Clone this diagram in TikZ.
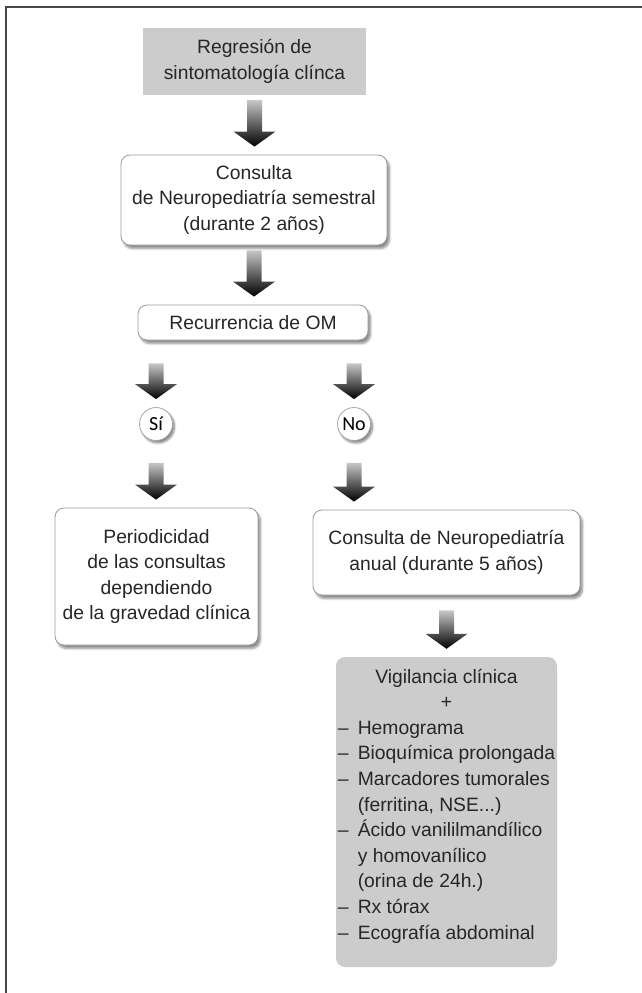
\documentclass[tikz,border=0pt]{standalone}
\usepackage{fontspec}
\setmainfont{Liberation Sans}
\newfontfamily\answerfont{Carlito}
\usepackage{tikz}
\usetikzlibrary{calc, shadows.blur}
\definecolor{boxgray}{RGB}{204,204,204}
\definecolor{framegray}{RGB}{70,70,70}

\tikzset{
  flatbox/.style={fill=boxgray, inner sep=0pt, align=center},
  roundbox/.style={draw=black!40, line width=0.8pt, fill=white, rounded corners=9pt, inner sep=0pt, align=center,
    blur shadow={shadow xshift=2.5pt, shadow yshift=-3.5pt, shadow opacity=45, shadow blur steps=8}},
  answer/.style={circle, draw=black!35, line width=0.8pt, fill=white, minimum size=33pt, inner sep=0pt,
    font=\answerfont\fontsize{20}{20}\selectfont, text=black,
    blur shadow={shadow xshift=2pt, shadow yshift=-2.5pt, shadow opacity=50, shadow blur steps=8}},
  arrowshade/.style={top color=black!22, middle color=black!92, bottom color=black}
}

% block arrow: [gap below start]{start}{target}, placed under the start
\newcommand\flowarrow[3][5]{%
  \shade[arrowshade] let \p1=(#2), \p2=(#3) in
    (\x1-7.5pt,\y1-#1pt) -- (\x1+7.5pt,\y1-#1pt) -- (\x1+7.5pt,\y2+23pt) -- (\x1+21pt,\y2+23pt)
    -- (\x1,\y2+8pt) -- (\x1-21pt,\y2+23pt) -- (\x1-7.5pt,\y2+23pt) -- cycle;}
\newcommand\itemdash{\makebox[20pt][l]{--}}

\begin{document}
\begin{tikzpicture}[x=1pt, y=-1pt, font=\fontsize{19.3}{25.6}\selectfont, text=black!85]
		\useasboundingbox (0,0) rectangle (642,993);
		\draw[framegray, line width=1.5pt] (6,993) -- (6,7) -- (642,7);

		\node(reg)  [flatbox, minimum width=223pt, minimum height=67pt] at (254.5,61.5)  {Regresión de\\sintomatología clínca};
		\node(cons)  [roundbox, minimum width=266pt, minimum height=90pt] at (254,200)  {Consulta\\de Neuropediatría semestral\\(durante 2 años)};
		\node(rec)  [roundbox, minimum width=230pt, minimum height=35pt] at (253,322.5)  {Recurrencia de OM};

		\node(si)  [answer] at (156,424)  {Sí};
		\node(no)  [answer] at (354,424)  {No};

		\node(per)  [roundbox, minimum width=203pt, minimum height=137pt] at (156.5,576.5)  {Periodicidad\\de las consultas\\dependiendo\\de la gravedad clínica};
		\node(anual)  [roundbox, minimum width=267pt, minimum height=85pt] at (446.5,552.5)  {Consulta de Neuropediatría\\anual (durante 5 años)};

		\node(vig)  [flatbox, rounded corners=9pt, minimum width=221pt, minimum height=310pt] at (446.5,812)  {%
			\begin{tabular}{@{}l@{}l@{}}
			\multicolumn{2}{c}{Vigilancia clínica}\\
			\multicolumn{2}{c}{+}\\
			\itemdash & Hemograma\\
			\itemdash & Bioquímica prolongada\\
			\itemdash & Marcadores tumorales\\
			 & (ferritina, NSE...)\\
			\itemdash & Ácido vanililmandílico\\
			 & y homovanílico\\
			 & (orina de 24h.)\\
			\itemdash & Rx tórax\\
			\itemdash & Ecografía abdominal\\[12pt]
			\end{tabular}};

		\flowarrow[5]{reg.south}{cons.north}
		\flowarrow[5]{cons.south}{rec.north}
		\flowarrow[23]{rec.south -| si.north}{si.north}
		\flowarrow[23]{rec.south -| no.north}{no.north}
		\flowarrow[22]{si.south}{per.north}
		\flowarrow[22]{no.south}{anual.north}
		\flowarrow[15]{anual.south}{vig.north}
\end{tikzpicture}
\end{document}
